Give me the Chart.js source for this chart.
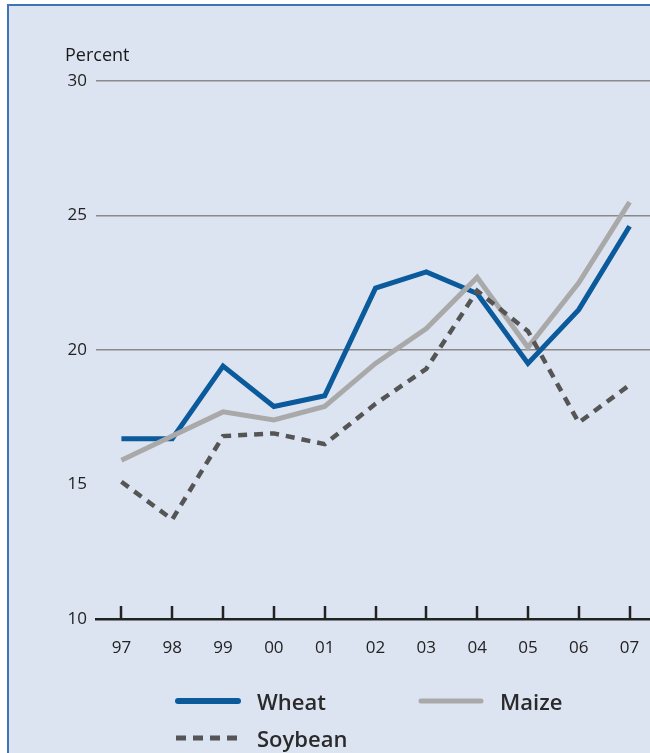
<!DOCTYPE html>
<html>
<head>
<meta charset="utf-8">
<script src="https://cdn.jsdelivr.net/npm/chart.js@4"></script>
<style>
  html, body { margin: 0; padding: 0; overflow: hidden; background: #fff; }
  body { width: 650px; height: 753px; position: relative; font-family: "Open Sans", "DejaVu Sans", sans-serif; }
  #panel {
    position: absolute; left: 7px; top: 4px; width: 700px; height: 800px;
    background: #dde4f1; border-left: 2px solid #3f74b5; border-top: 2px solid #3f74b5;
  }
  #wrap { position: absolute; left: 0; top: 0; width: 660px; height: 753px; }
  #unit { position: absolute; left: 65px; top: 42px; font-size: 18px; color: #1a1a1a; }
  .leg { position: absolute; font-size: 22px; font-weight: 600; color: #2a2a2a; display: flex; align-items: center; }
  .leg svg { margin-right: 16px; }
</style>
</head>
<body>
<div id="panel"></div>
<div id="wrap"><canvas id="chart" width="660" height="753"></canvas></div>
<div id="unit">Percent</div>
<div class="leg" style="left:175px; top:686px;">
  <svg width="66" height="10"><line x1="3" y1="5" x2="63" y2="5" stroke="#0b5a9b" stroke-width="6" stroke-linecap="round"/></svg>Wheat
</div>
<div class="leg" style="left:418px; top:686px;">
  <svg width="66" height="10"><line x1="3" y1="5" x2="63" y2="5" stroke="#a9a9a9" stroke-width="5" stroke-linecap="round"/></svg>Maize
</div>
<div class="leg" style="left:175px; top:723px;">
  <svg width="66" height="10"><line x1="1" y1="5" x2="65" y2="5" stroke="#555" stroke-width="5" stroke-dasharray="10,7"/></svg>Soybean
</div>
<script>
const years = ['97', '98', '99', '00', '01', '02', '03', '04', '05', '06', '07'];
const wheat = [16.7, 16.7, 19.4, 17.9, 18.3, 22.3, 22.9, 22.1, 19.5, 21.5, 24.6];
const maize = [15.9, 16.8, 17.7, 17.4, 17.9, 19.5, 20.8, 22.7, 20.1, 22.5, 25.5];
const soybean = [15.1, 13.7, 16.8, 16.9, 16.5, 18.0, 19.3, 22.2, 20.7, 17.3, 18.7];
const yTicks = [10, 15, 20, 25, 30];

// small upward tick marks on the x axis
const upTicks = {
  id: 'upTicks',
  afterDatasetsDraw(chart) {
    const ctx = chart.ctx, xs = chart.scales.x, bottom = chart.chartArea.bottom;
    ctx.save();
    ctx.strokeStyle = '#222';
    ctx.lineWidth = 2.5;
    years.forEach((y, i) => {
      const px = Math.round(xs.getPixelForTick(i));
      ctx.beginPath();
      ctx.moveTo(px, bottom);
      ctx.lineTo(px, bottom - 13);
      ctx.stroke();
    });
    ctx.restore();
  }
};

const ctx = document.getElementById('chart').getContext('2d');
new Chart(ctx, {
  type: 'line',
  data: {
    labels: years,
    datasets: [
      { label: 'Soybean', data: soybean, borderColor: '#555', borderWidth: 4.5, borderDash: [9, 7], pointRadius: 0, fill: false, tension: 0 },
      { label: 'Maize', data: maize, borderColor: '#a9a9a9', borderWidth: 5, pointRadius: 0, fill: false, tension: 0 },
      { label: 'Wheat', data: wheat, borderColor: '#0b5a9b', borderWidth: 5, pointRadius: 0, fill: false, tension: 0 }
    ]
  },
  options: {
    responsive: false,
    animation: false,
    layout: { padding: { top: 81, right: 5, left: 0, bottom: 0 } },
    scales: {
      x: {
        offset: true,
        afterFit: s => { s.height = 134; },
        grid: { display: false, drawTicks: false },
        border: { display: true, color: '#222', width: 2.5 },
        ticks: { autoSkip: false, maxRotation: 0, color: '#222', font: { size: 17, family: 'Open Sans' }, padding: 19 }
      },
      y: {
        min: 10, max: 30,
        afterFit: s => { s.width = 96; },
        afterBuildTicks: s => { s.ticks = yTicks.map(v => ({ value: v })); },
        border: { display: false },
        grid: {
          drawTicks: false,
          lineWidth: 1.5,
          color: c => (c.tick && (c.tick.value === 15 || c.tick.value === 10)) ? 'rgba(0,0,0,0)' : '#8a8a8a'
        },
        ticks: { color: '#222', font: { size: 17, family: 'Open Sans' }, padding: 9 }
      }
    },
    plugins: { legend: { display: false }, tooltip: { enabled: false } }
  },
  plugins: [upTicks]
});
</script>
</body>
</html>
